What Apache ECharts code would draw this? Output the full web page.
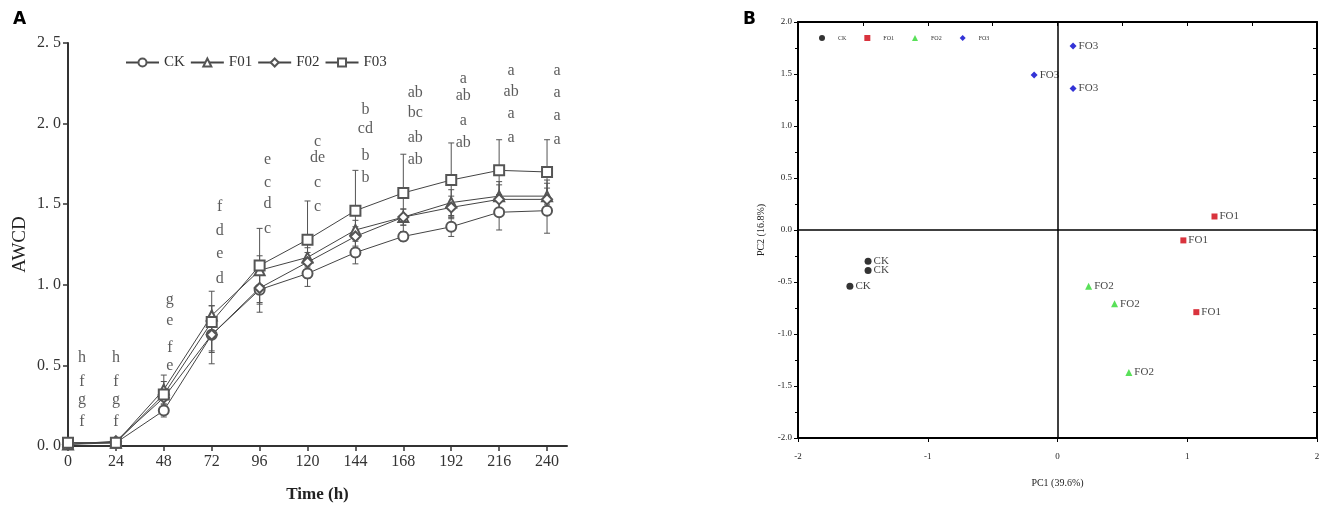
<!DOCTYPE html>
<html lang="en">
<head>
<meta charset="UTF-8">
<title>AWCD and PCA</title>
<script src="https://cdn.jsdelivr.net/npm/echarts@6.0.0/dist/echarts.min.js"></script>
<style>
  html, body { margin: 0; padding: 0; background: #fff; }
  #chart { width: 1325px; height: 512px; }
</style>
</head>
<body>
<div id="chart"></div>
<script>
// ---- Panel A: AWCD over time ----
const hours = [0, 24, 48, 72, 96, 120, 144, 168, 192, 216, 240];
const awcdNames = ['CK', 'F01', 'F02', 'F03'];
const awcdSymbols = ['emptyCircle', 'emptyTriangle', 'emptyDiamond', 'emptyRect'];
const awcdCK  = [0.02, 0.02, 0.22, 0.69, 0.97, 1.07, 1.20, 1.30, 1.36, 1.45, 1.46];
const awcdF01 = [0.01, 0.02, 0.35, 0.81, 1.09, 1.17, 1.34, 1.42, 1.51, 1.55, 1.55];
const awcdF02 = [0.01, 0.03, 0.30, 0.69, 0.98, 1.14, 1.30, 1.42, 1.48, 1.53, 1.53];
const awcdF03 = [0.02, 0.02, 0.32, 0.77, 1.12, 1.28, 1.46, 1.57, 1.65, 1.71, 1.70];
const sdCK  = [0.01, 0.01, 0.04, 0.18, 0.14, 0.08, 0.07, 0.03, 0.06, 0.11, 0.14];
const sdF01 = [0.01, 0.01, 0.05, 0.06, 0.09, 0.06, 0.06, 0.05, 0.08, 0.09, 0.10];
const sdF02 = [0.01, 0.01, 0.04, 0.10, 0.10, 0.06, 0.06, 0.05, 0.07, 0.09, 0.10];
const sdF03 = [0.01, 0.01, 0.12, 0.19, 0.23, 0.24, 0.25, 0.24, 0.23, 0.19, 0.20];

// significance letters, top to bottom at each time point
const letters = [
  ['h', 'f', 'g', 'f'], ['h', 'f', 'g', 'f'], ['g', 'e', 'f', 'e'], ['f', 'd', 'e', 'd'],
  ['e', 'c', 'd', 'c'], ['c', 'de', 'c', 'c'], ['b', 'cd', 'b', 'b'], ['ab', 'bc', 'ab', 'ab'],
  ['a', 'ab', 'a', 'ab'], ['a', 'ab', 'a', 'a'], ['a', 'a', 'a', 'a']
];
const letterY = [
  [0.55, 0.40, 0.285, 0.15], [0.55, 0.40, 0.285, 0.15], [0.91, 0.775, 0.61, 0.50], [1.485, 1.335, 1.195, 1.04],
  [1.775, 1.63, 1.505, 1.35], [1.89, 1.785, 1.63, 1.485], [2.085, 1.965, 1.80, 1.665], [2.19, 2.07, 1.915, 1.775],
  [2.275, 2.175, 2.02, 1.88], [2.33, 2.20, 2.06, 1.91], [2.33, 2.19, 2.05, 1.90]
];
const letterX = [7, 24, 51, 76, 100, 125, 149, 174, 198, 222, 245];

// ---- Panel B: PCA scores ----
const pcaNames = ['CK', 'FO1', 'FO2', 'FO3'];
const pcaColors = ['#000000', '#d0000c', '#2fd82f', '#0000cc'];
const pcaSymbols = ['circle', 'rect', 'triangle', 'diamond'];
const pcaCK  = [[-1.46, -0.30], [-1.46, -0.39], [-1.60, -0.54]];
const pcaFO1 = [[1.21, 0.13], [0.97, -0.10], [1.07, -0.79]];
const pcaFO2 = [[0.24, -0.54], [0.44, -0.71], [0.55, -1.37]];
const pcaFO3 = [[-0.18, 1.49], [0.12, 1.77], [0.12, 1.36]];

const serif = 'Liberation Serif';
const chart = echarts.init(document.getElementById('chart'));

const awcdValues = [awcdCK, awcdF01, awcdF02, awcdF03];
const awcdSd = [sdCK, sdF01, sdF02, sdF03];
const pcaValues = [pcaCK, pcaFO1, pcaFO2, pcaFO3];

function errorBarItem(params, api) {
  const x = api.value(0);
  const lo = api.coord([x, api.value(1)]);
  const hi = api.coord([x, api.value(2)]);
  const w = 3;
  const style = { stroke: '#555', lineWidth: 1 };
  return {
    type: 'group',
    children: [
      { type: 'line', shape: { x1: lo[0], y1: lo[1], x2: hi[0], y2: hi[1] }, style: style },
      { type: 'line', shape: { x1: lo[0] - w, y1: lo[1], x2: lo[0] + w, y2: lo[1] }, style: style },
      { type: 'line', shape: { x1: hi[0] - w, y1: hi[1], x2: hi[0] + w, y2: hi[1] }, style: style }
    ]
  };
}

const series = [];
// error bars first so lines and markers sit on top
awcdNames.forEach((name, i) => {
  series.push({
    name: 'err-' + name,
    type: 'custom',
    xAxisIndex: 0, yAxisIndex: 0,
    renderItem: errorBarItem,
    data: hours.map((h, j) => [h, awcdValues[i][j] - awcdSd[i][j], awcdValues[i][j] + awcdSd[i][j]]),
    z: 1,
    silent: true
  });
});
awcdNames.forEach((name, i) => {
  series.push({
    name: name,
    type: 'line',
    xAxisIndex: 0, yAxisIndex: 0,
    data: hours.map((h, j) => [h, awcdValues[i][j]]),
    symbol: awcdSymbols[i],
    symbolSize: 10,
    lineStyle: { color: '#444', width: 1 },
    itemStyle: { color: '#555', borderColor: '#555', borderWidth: 0.8 },
    z: 3
  });
});
// letters
const letterData = [];
hours.forEach((h, j) => {
  letters[j].forEach((t, k) => letterData.push([letterX[j], letterY[j][k], t]));
});
series.push({
  type: 'scatter',
  xAxisIndex: 0, yAxisIndex: 0,
  data: letterData,
  symbolSize: 0,
  silent: true,
  label: {
    show: true,
    position: 'inside',
    formatter: p => p.data[2],
    fontFamily: serif,
    fontSize: 16,
    color: '#333'
  }
});

// PCA scatter
pcaNames.forEach((name, i) => {
  const s = {
    name: 'B-' + name,
    type: 'scatter',
    xAxisIndex: 1, yAxisIndex: 1,
    data: pcaValues[i],
    symbol: pcaSymbols[i],
    symbolSize: pcaSymbols[i] === 'rect' ? 6 : 7,
    itemStyle: { color: pcaColors[i] },
    label: {
      show: true,
      position: 'right',
      distance: 2,
      formatter: name,
      fontFamily: serif,
      fontSize: 11,
      color: '#111'
    },
    z: 4
  };
  if (i === 0) {
    s.markLine = {
      silent: true,
      symbol: 'none',
      label: { show: false },
      lineStyle: { color: '#000', width: 1.5, type: 'solid' },
      data: [{ xAxis: 0 }, { yAxis: 0 }]
    };
  }
  series.push(s);
});

const option = {
  animation: false,
  backgroundColor: '#fff',
  title: [
    { text: 'A', left: 8, top: 6, textStyle: { fontFamily: 'DejaVu Sans', fontWeight: 'bold', fontSize: 17, color: '#000' } },
    { text: 'B', left: 738, top: 6, textStyle: { fontFamily: 'DejaVu Sans', fontWeight: 'bold', fontSize: 17, color: '#000' } }
  ],
  legend: [
    {
      data: awcdNames,
      left: 120, top: 50,
      itemWidth: 33, itemHeight: 10, itemGap: 5,
      textStyle: { fontFamily: serif, fontSize: 15, color: '#333' },
      selectedMode: false
    },
    {
      data: pcaNames.map(n => 'B-' + n),
      formatter: n => n.slice(2),
      left: 814, top: 30,
      itemWidth: 6, itemHeight: 6, itemGap: 18,
      textStyle: { fontFamily: serif, fontSize: 6, color: '#333', padding: [0, 0, 0, 8] },
      selectedMode: false
    }
  ],
  grid: [
    { left: 68, top: 43, width: 499, height: 403 },
    { left: 798, top: 22, width: 519, height: 416 }
  ],
  xAxis: [
    {
      gridIndex: 0, type: 'value', min: 0, max: 250,
      name: 'Time (h)', nameLocation: 'middle', nameGap: 40,
      nameTextStyle: { fontFamily: serif, fontSize: 17, fontWeight: 'bold', color: '#222' },
      axisLine: { lineStyle: { color: '#333', width: 2 } },
      axisTick: { customValues: hours, length: 5, lineStyle: { color: '#333', width: 1.5 } },
      axisLabel: { customValues: hours, fontFamily: serif, fontSize: 16, color: '#333', margin: 8 },
      splitLine: { show: false }
    },
    {
      gridIndex: 1, type: 'value', min: -2, max: 2, interval: 1,
      name: 'PC1 (39.6%)', nameLocation: 'middle', nameGap: 40,
      nameTextStyle: { fontFamily: serif, fontSize: 10, color: '#222' },
      axisLine: { onZero: false, lineStyle: { color: '#000', width: 2 } },
      axisTick: { length: 4, lineStyle: { color: '#000' } },
      axisLabel: { fontFamily: serif, fontSize: 9, color: '#222', margin: 14 },
      splitLine: { show: false }
    },
    {
      gridIndex: 1, type: 'value', min: -2, max: 2, interval: 0.5, position: 'top',
      axisLine: { onZero: false, lineStyle: { color: '#000', width: 2 } },
      axisTick: { inside: true, length: 4, lineStyle: { color: '#000' } },
      axisLabel: { show: false },
      splitLine: { show: false }
    }
  ],
  yAxis: [
    {
      gridIndex: 0, type: 'value', min: 0, max: 2.5, interval: 0.5,
      name: 'AWCD', nameLocation: 'middle', nameGap: 38,
      nameTextStyle: { fontFamily: serif, fontSize: 19, color: '#222' },
      axisLine: { show: true, lineStyle: { color: '#333', width: 2 } },
      axisTick: { show: true, length: 5, lineStyle: { color: '#333', width: 1.5 } },
      axisLabel: { fontFamily: serif, fontSize: 16, color: '#333', margin: 7, formatter: v => v.toFixed(1).replace('.', '. ') },
      splitLine: { show: false }
    },
    {
      gridIndex: 1, type: 'value', min: -2, max: 2, interval: 0.5,
      name: 'PC2 (16.8%)', nameLocation: 'middle', nameGap: 32,
      nameTextStyle: { fontFamily: serif, fontSize: 10, color: '#222' },
      axisLine: { show: true, onZero: false, lineStyle: { color: '#000', width: 2 } },
      axisTick: { show: true, length: 4, lineStyle: { color: '#000' } },
      minorTick: { show: true, splitNumber: 2, length: 3, lineStyle: { color: '#000' } },
      axisLabel: { fontFamily: serif, fontSize: 9, color: '#222', margin: 6, formatter: v => v.toFixed(1) },
      splitLine: { show: false }
    },
    {
      gridIndex: 1, type: 'value', min: -2, max: 2, interval: 0.25, position: 'right',
      axisLine: { show: true, onZero: false, lineStyle: { color: '#000', width: 2 } },
      axisTick: { show: true, inside: true, length: 4, lineStyle: { color: '#000' } },
      axisLabel: { show: false },
      splitLine: { show: false }
    }
  ],
  series: series
};

chart.setOption(option);
</script>
</body>
</html>
